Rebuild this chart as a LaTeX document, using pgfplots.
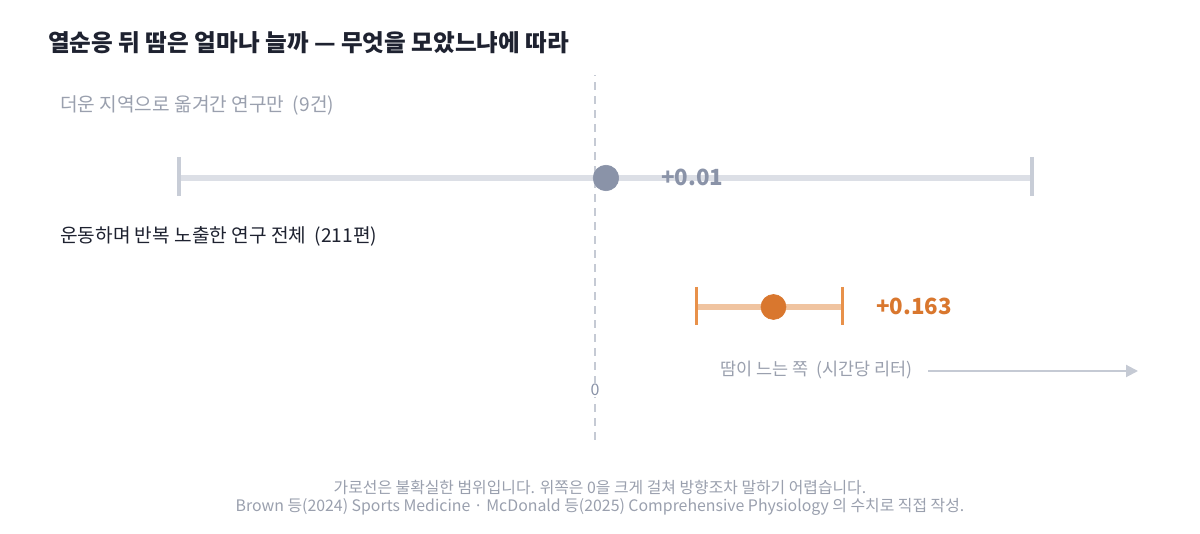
\documentclass[border=0pt]{standalone}
\usepackage{pgfplots}
\pgfplotsset{compat=1.18}
\usepackage{fontspec}
\setmainfont{Noto Sans CJK KR}
\usetikzlibrary{arrows.meta}
\definecolor{ptgrey}{HTML}{8A93A8}
\definecolor{barwgrey}{HTML}{DCDFE6}
\definecolor{capgrey}{HTML}{C8CDD7}
\definecolor{ptorange}{HTML}{D9772E}
\definecolor{barorange}{HTML}{F0C4A0}
\definecolor{caporange}{HTML}{E8914A}
\definecolor{txtgrey}{HTML}{9AA0AE}
\definecolor{zerogrey}{HTML}{C5CAD4}
\definecolor{titlecol}{HTML}{1E2230}
\begin{document}
\begin{tikzpicture}
\begin{axis}[
  scale only axis, width=900pt, height=400.5pt,
  xmin=-0.543379, xmax=0.552511, ymin=0, ymax=534,
  hide axis, clip=false]
\fill[white] (axis cs:-0.543379,0) rectangle (axis cs:0.552511,534);
% zero line
\addplot[zerogrey, line width=1.5pt, dash pattern=on 6pt off 4.5pt, forget plot] coordinates {(0,94) (0,459)};
% row 1 CI
\addplot[barwgrey, line width=5.2pt] coordinates {(-0.380,356) (0.399,356)};
\addplot[capgrey, line width=2.4pt] coordinates {(-0.380,377) (-0.380,338)};
\addplot[capgrey, line width=2.4pt] coordinates {(0.399,377) (0.399,338)};
\addplot[only marks, mark=*, mark size=9.6pt, mark options={fill=ptgrey, draw=ptgrey}] coordinates {(0.010,356)};
% row 2 CI
\addplot[barorange, line width=5.2pt] coordinates {(0.093,227) (0.226,227)};
\addplot[caporange, line width=2.4pt] coordinates {(0.093,247) (0.093,209)};
\addplot[caporange, line width=2.4pt] coordinates {(0.226,247) (0.226,209)};
\addplot[only marks, mark=*, mark size=9.4pt, mark options={fill=ptorange, draw=ptorange}] coordinates {(0.163,227)};
% arrow
\draw[zerogrey, line width=1.5pt, -{Triangle[length=9pt,width=9pt]}] (axis cs:0.30411,163) -- (axis cs:0.49589,163);
% texts
\node[anchor=west, inner sep=0pt, font=\fontsize{17.7}{20}\selectfont\bfseries, text=titlecol] at (axis cs:-0.49954,491) {열순응 뒤 땀은 얼마나 늘까 — 무엇을 모았느냐에 따라};
\node[anchor=west, inner sep=0pt, font=\fontsize{14.35}{16}\selectfont, text=txtgrey] at (axis cs:-0.48858,429) {더운 지역으로 옮겨간 연구만 \ (9건)};
\node[anchor=west, inner sep=0pt, font=\fontsize{14.35}{16}\selectfont, text=titlecol] at (axis cs:-0.48858,298) {운동하며 반복 노출한 연구 전체 \ (211편)};
\node[anchor=west, inner sep=0pt, font=\fontsize{16.7}{19}\selectfont\bfseries, text=ptgrey] at (axis cs:0.06027,357) {+0.01};
\node[anchor=west, inner sep=0pt, font=\fontsize{16.7}{19}\selectfont\bfseries, text=ptorange] at (axis cs:0.25662,228) {+0.163};
\node[anchor=east, inner sep=0pt, font=\fontsize{13.1}{15}\selectfont, text=txtgrey] at (axis cs:0.29041,164) {땀이 느는 쪽 \ (시간당 리터)};
\node[inner sep=1pt, fill=white, font=\fontsize{12}{14}\selectfont, text=ptgrey] at (axis cs:0,144) {0};
\node[inner sep=0pt, font=\fontsize{11.9}{14}\selectfont, text=txtgrey] at (axis cs:0.004566,46) {가로선은 불확실한 범위입니다. 위쪽은 0을 크게 걸쳐 방향조차 말하기 어렵습니다.};
\node[inner sep=0pt, font=\fontsize{11.9}{14}\selectfont, text=txtgrey] at (axis cs:0.004566,27) {Brown 등(2024) Sports Medicine · McDonald 등(2025) Comprehensive Physiology 의 수치로 직접 작성.};
\end{axis}
\end{tikzpicture}
\end{document}
